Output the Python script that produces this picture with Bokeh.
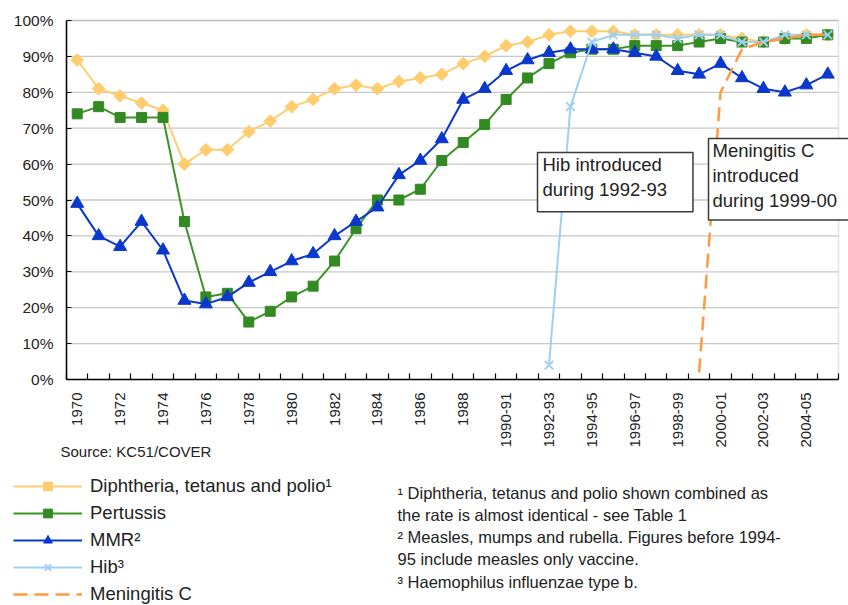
import numpy as np
from bokeh.plotting import figure
from bokeh.models import (Range1d, FixedTicker, ColumnDataSource, Label, Legend, LegendItem,
                          BoxAnnotation)
from bokeh.embed import file_html
from bokeh.resources import INLINE

# ---------------- data ----------------
years = ["1970", "1971", "1972", "1973", "1974", "1975", "1976", "1977", "1978", "1979",
         "1980", "1981", "1982", "1983", "1984", "1985", "1986", "1987", "1988", "1989",
         "1990-91", "1991-92", "1992-93", "1993-94", "1994-95", "1995-96", "1996-97",
         "1997-98", "1998-99", "1999-00", "2000-01", "2001-02", "2002-03", "2003-04",
         "2004-05", "2005-06"]
dtp = [89, 81, 79, 77, 75, 60, 64, 64, 69, 72,
       76, 78, 81, 82, 81, 83, 84, 85, 88, 90,
       93, 94, 96, 97, 97, 97, 96, 96, 96, 96, 96, 95, 94, 95, 96, 96]
pertussis = [74, 76, 73, 73, 73, 44, 23, 24, 16, 19,
             23, 26, 33, 42, 50, 50, 53, 61, 66, 71,
             78, 84, 88, 91, 92, 92, 93, 93, 93, 94, 95, 94, 94, 95, 95, 96]
mmr = [49, 40, 37, 44, 36, 22, 21, 23, 27, 30,
       33, 35, 40, 44, 48, 57, 61, 67, 78, 81,
       86, 89, 91, 92, 92, 92, 91, 90, 86, 85, 88, 84, 81, 80, 82, 85]
hib = [None] * 22 + [4, 76, 94, 96, 96, 96, 95, 96, 96, 94, 94, 96, 96, 96]
menc = [None] * 29 + [2, 80, 92, 94, 95, 96, 96]
y_ticks = [0, 10, 20, 30, 40, 50, 60, 70, 80, 90, 100]
y_tick_labels = ["0%", "10%", "20%", "30%", "40%", "50%", "60%", "70%", "80%", "90%", "100%"]

series_names = ["Diphtheria, tetanus and polio\u00b9", "Pertussis", "MMR\u00b2", "Hib\u00b3", "Meningitis C"]
source_text = "Source: KC51/COVER"
footnotes = ["\u00b9 Diphtheria, tetanus and polio shown combined as",
             "the rate is almost identical - see Table 1",
             "\u00b2 Measles, mumps and rubella.   Figures before 1994-",
             "95 include measles only vaccine.",
             "\u00b3 Haemophilus influenzae type b."]
hib_note = "Hib introduced\nduring 1992-93"
menc_note = "Meningitis C\nintroduced\nduring 1999-00"

# ---------------- layout ----------------
FONT = "Liberation Sans"
W, H = 848, 605
PL, PR, PT, PB = 66, 838, 20, 379          # plot area in canvas pixels
n = len(years)
ppx = (PR - PL) / n
ppy = (PB - PT) / 100.0
XMIN = -0.5 - PL / ppx
XMAX = n - 0.5 + (W - PR) / ppx
YMAX = 100 + PT / ppy
YMIN = -(H - PB) / ppy


def dx(px):
    return XMIN + px / ppx


def dy(py):
    return YMAX - py / ppy


def src(vals):
    xs = [i for i, v in enumerate(vals) if v is not None]
    ys = [v for v in vals if v is not None]
    return ColumnDataSource(dict(x=xs, y=ys))


p = figure(width=W, height=H, x_range=Range1d(XMIN, XMAX), y_range=Range1d(YMIN, YMAX),
           output_backend="svg", toolbar_location=None, min_border=0)
p.outline_line_color = None
p.background_fill_color = "white"
p.border_fill_color = "white"
p.xgrid.visible = False
p.ygrid.visible = False

# plot area border and gridlines
p.add_layout(BoxAnnotation(left=-0.5, right=n - 0.5, bottom=0, top=100, fill_alpha=0,
                           line_color="#a8a8a8", line_width=1.5, level="underlay"))
gy = [t for t in y_ticks if t > 0]
p.segment(x0=[-0.5] * len(gy), x1=[n - 0.5] * len(gy), y0=gy, y1=gy,
          line_color="#c8c8c8", line_width=1.3, level="underlay")

# axes
xa = p.xaxis[0]
xa.fixed_location = 0
xa.bounds = (-0.5, n - 0.5)
xa.ticker = FixedTicker(ticks=list(range(0, n, 2)),
                        minor_ticks=[i - 0.5 for i in range(n + 1)])
xa.major_label_overrides = {i: years[i] for i in range(0, n, 2)}
xa.major_label_orientation = np.pi / 2
xa.major_tick_in = 0
xa.major_tick_out = 0
xa.minor_tick_in = 6
xa.minor_tick_out = 0
xa.minor_tick_line_color = "black"
xa.minor_tick_line_width = 1.2
xa.major_label_standoff = 13
xa.major_label_text_font = FONT
xa.major_label_text_font_size = "15px"
xa.major_label_text_color = "#222222"
xa.axis_line_width = 1.5
xa.axis_line_color = "black"

ya = p.yaxis[0]
ya.fixed_location = -0.5
ya.bounds = (0, 100)
ya.ticker = FixedTicker(ticks=y_ticks)
ya.major_label_overrides = {t: s for t, s in zip(y_ticks, y_tick_labels)}
ya.major_tick_in = 5
ya.major_tick_out = 0
ya.minor_tick_line_color = None
ya.major_label_standoff = 13
ya.major_label_text_font = FONT
ya.major_label_text_font_size = "15.5px"
ya.major_label_text_color = "#222222"
ya.axis_line_width = 1.5
ya.axis_line_color = "black"

# series
c_dtp, c_per, c_mmr, c_hib, c_men = "#FFCC6E", "#3C9328", "#0A38CC", "#9FD0F2", "#FF9A40"

s_dtp = src(dtp)
l1 = p.line("x", "y", source=s_dtp, line_color=c_dtp, line_width=2)
m1 = p.scatter("x", "y", source=s_dtp, marker="square", angle=np.pi / 4, size=9,
               fill_color=c_dtp, line_color=c_dtp)

s_per = src(pertussis)
l2 = p.line("x", "y", source=s_per, line_color=c_per, line_width=2)
m2 = p.scatter("x", "y", source=s_per, marker="square", size=10,
               fill_color="#338A22", line_color="#338A22")

s_mmr = src(mmr)
l3 = p.line("x", "y", source=s_mmr, line_color=c_mmr, line_width=2)
m3 = p.scatter("x", "y", source=s_mmr, marker="triangle", size=13,
               fill_color=c_mmr, line_color=c_mmr)

s_hib = src(hib)
l4 = p.line("x", "y", source=s_hib, line_color=c_hib, line_width=2)
m4 = p.scatter("x", "y", source=s_hib, marker="x", size=12, line_color=c_hib, line_width=2)

s_men = src(menc)
l5 = p.line("x", "y", source=s_men, line_color=c_men, line_width=2.5, line_dash="14 7")

# annotation boxes (x, y = top-left corner of the box)
box_style = dict(text_font=FONT, text_font_size="18.5px", text_color="#222222",
                 text_align="left", text_baseline="top", text_line_height=1.2,
                 border_line_color="#3a3a3a", border_line_width=1.5,
                 background_fill_color="white", background_fill_alpha=1.0)
p.add_layout(Label(x=dx(537), y=dy(152), text=hib_note,
                   padding=dict(left=5, right=26, top=1, bottom=12), **box_style))
p.add_layout(Label(x=dx(708), y=dy(138), text=menc_note,
                   padding=dict(left=4, right=40, top=1, bottom=9), **box_style))

# source
p.add_layout(Label(x=dx(60), y=dy(451), text=source_text, text_font=FONT,
                   text_font_size="15px", text_color="#222222",
                   text_align="left", text_baseline="middle"))

# footnotes
for txt, py in zip(footnotes, [492, 514, 536, 558, 581]):
    p.add_layout(Label(x=dx(397), y=dy(py), text=txt, text_font=FONT,
                       text_font_size="16.5px", text_color="#222222",
                       text_align="left", text_baseline="middle"))

# legend
items = [LegendItem(label=series_names[0], renderers=[l1, m1]),
         LegendItem(label=series_names[1], renderers=[l2, m2]),
         LegendItem(label=series_names[2], renderers=[l3, m3]),
         LegendItem(label=series_names[3], renderers=[l4, m4]),
         LegendItem(label=series_names[4], renderers=[l5])]
item_h, gap = 22, 5
leg_h = 5 * item_h + 4 * gap
legend = Legend(items=items, location=(13, H - 475 - leg_h), orientation="vertical",
                border_line_color=None, background_fill_alpha=0, padding=0, margin=0,
                spacing=gap, glyph_width=69, glyph_height=item_h, label_height=item_h,
                label_standoff=8, label_text_font=FONT, label_text_font_size="18.5px",
                label_text_color="#222222")
p.add_layout(legend)

open("out.html", "w").write(file_html(p, INLINE))
